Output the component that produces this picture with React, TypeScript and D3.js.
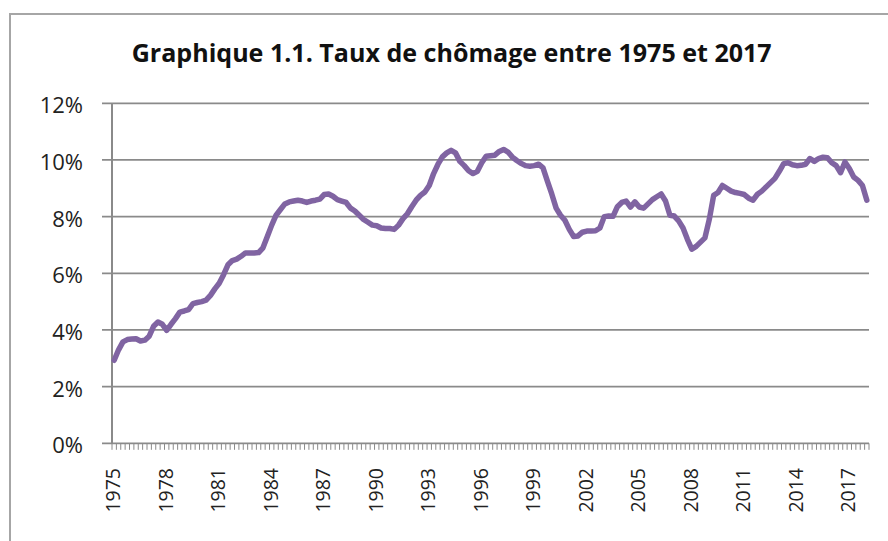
import React from "react";
import * as d3 from "d3";

const title = "Graphique 1.1. Taux de chômage entre 1975 et 2017";

// Quarterly unemployment rate (%), 1975 Q1 -> 2018 Q1
const rates: number[] = [
  2.93, 3.3, 3.58, 3.66,
  3.68, 3.69, 3.61, 3.64,
  3.78, 4.13, 4.28, 4.2,
  3.99, 4.2, 4.4, 4.63,
  4.67, 4.72, 4.93, 4.97,
  5.0, 5.05, 5.22, 5.45,
  5.65, 5.95, 6.3, 6.45,
  6.5, 6.6, 6.72, 6.72,
  6.72, 6.73, 6.9, 7.3,
  7.7, 8.05, 8.25, 8.45,
  8.52, 8.55, 8.58, 8.55,
  8.5, 8.55, 8.58, 8.62,
  8.78, 8.8, 8.72, 8.6,
  8.55, 8.5, 8.3, 8.2,
  8.05, 7.9, 7.8, 7.7,
  7.68, 7.6, 7.58, 7.58,
  7.55, 7.7, 7.93, 8.1,
  8.35, 8.58, 8.75, 8.87,
  9.1, 9.52, 9.85, 10.11,
  10.25, 10.34, 10.25, 9.95,
  9.8, 9.62, 9.52, 9.6,
  9.9, 10.13, 10.15, 10.17,
  10.3, 10.37, 10.28, 10.1,
  9.98, 9.88, 9.8, 9.78,
  9.8, 9.85, 9.72, 9.25,
  8.8, 8.3, 8.05, 7.87,
  7.55, 7.3, 7.32, 7.45,
  7.49, 7.49, 7.5, 7.6,
  8.0, 8.02, 8.01, 8.35,
  8.5, 8.55, 8.34, 8.52,
  8.34, 8.3, 8.45, 8.6,
  8.7, 8.8, 8.55, 8.05,
  8.02, 7.85, 7.6, 7.2,
  6.85, 6.95, 7.1, 7.25,
  7.9, 8.75, 8.85, 9.1,
  9.0, 8.9, 8.85, 8.82,
  8.78, 8.65, 8.58, 8.79,
  8.9, 9.05, 9.2, 9.35,
  9.6, 9.87, 9.9, 9.83,
  9.8, 9.81, 9.85, 10.05,
  9.95, 10.05, 10.1, 10.08,
  9.9, 9.8, 9.55, 9.93,
  9.7, 9.4, 9.28, 9.1,
  8.58,
];

const yTicks: number[] = [0, 2, 4, 6, 8, 10, 12];
const xTickLabels: string[] = [
  "1975", "1978", "1981", "1984", "1987", "1990", "1993", "1996",
  "1999", "2002", "2005", "2008", "2011", "2014", "2017",
];
const labelEvery = 12; // quarters between labels

export default function App() {
  const W = 888;
  const H = 541;
  const left = 112;
  const right = 869;
  const top = 103.3;
  const bottom = 443.3;
  const n = rates.length;

  const x = d3.scaleLinear().domain([0, n]).range([left, right]);
  const y = d3.scaleLinear().domain([0, 12]).range([bottom, top]);

  const line = d3
    .line<number>()
    .x((_, i) => x(i + 0.5))
    .y((d) => y(d))
    .curve(d3.curveLinear);

  const font = "'Open Sans', 'Liberation Sans', sans-serif";
  const gridColor = "#8a8a8a";

  return (
    <svg
      width={W}
      height={H}
      style={{ position: "absolute", left: 0, top: 0, background: "#fff" }}
    >
      <rect x={10} y={14} width={W + 20} height={H + 20} fill="#fff" stroke="#a6a6a6" strokeWidth={2} />
      <text
        x={131.7}
        y={61.7}
        fontFamily={font}
        fontWeight="bold"
        fontSize={25}
        fill="#111"
        textLength={640}
        lengthAdjust="spacingAndGlyphs"
      >
        {title}
      </text>

      {yTicks.map((t) => (
        <g key={t}>
          <line x1={102} x2={right} y1={y(t)} y2={y(t)} stroke={gridColor} strokeWidth={1.8} />
          <text
            x={83}
            y={y(t) + 10}
            textAnchor="end"
            fontFamily={font}
            fontSize={22}
            fill="#222"
          >
            {t}%
          </text>
        </g>
      ))}

      <line x1={left} x2={left} y1={top} y2={bottom} stroke={gridColor} strokeWidth={2} />

      {d3.range(n + 1).map((i) => (
        <line
          key={i}
          x1={x(i)}
          x2={x(i)}
          y1={bottom}
          y2={bottom + 6.5}
          stroke={gridColor}
          strokeWidth={1}
        />
      ))}

      {xTickLabels.map((lab, k) => {
        const cx = x(k * labelEvery + 0.5);
        return (
          <text
            key={lab}
            transform={`translate(${cx},468) rotate(-90)`}
            textAnchor="end"
            dy="0.3em"
            fontFamily={font}
            fontSize={19.5}
            fill="#222"
          >
            {lab}
          </text>
        );
      })}

      <path
        d={line(rates) || ""}
        fill="none"
        stroke="#8064A2"
        strokeWidth={5.5}
        strokeLinejoin="round"
        strokeLinecap="round"
      />
    </svg>
  );
}
